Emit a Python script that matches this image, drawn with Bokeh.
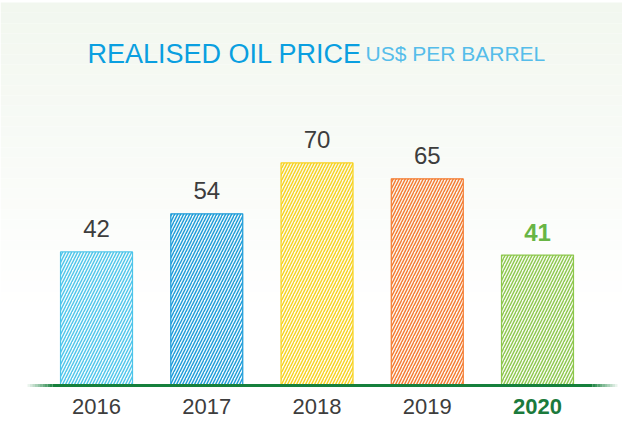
from bokeh.plotting import figure
from bokeh.models import FactorRange, Range1d, ColumnDataSource, BoxAnnotation, Label
from bokeh.transform import dodge
from bokeh.embed import file_html
from bokeh.resources import INLINE

# ---- data ----
years = ["2016", "2017", "2018", "2019", "2020"]
prices = [42, 54, 70, 65, 41]
bar_colors = ["#4dc5ea", "#1b9bd8", "#f7d21e", "#f47a2e", "#8dc74c"]
label_colors = ["#3d3d3d", "#3d3d3d", "#3d3d3d", "#3d3d3d", "#68b545"]
year_colors = ["#3d3d3d", "#3d3d3d", "#3d3d3d", "#3d3d3d", "#1b7a3c"]
font_styles = ["normal", "normal", "normal", "normal", "bold"]
title_text = "REALISED OIL PRICE"
subtitle_text = "US$ PER BARREL"

W, H = 622, 421
PXU = 3.18                 # pixels per US$
AXIS_PX = 385              # canvas y of the zero line
Y1 = AXIS_PX / PXU
Y0 = -(H - AXIS_PX) / PXU
PAD = 0.321
FONT = "Liberation Sans"


def y_at(px):
    return Y1 - px / PXU


src = ColumnDataSource(dict(year=years, price=prices, color=bar_colors,
                            lcolor=label_colors, ycolor=year_colors,
                            style=font_styles, label=[str(v) for v in prices]))

p = figure(width=W, height=H,
           x_range=FactorRange(factors=years, range_padding=PAD, range_padding_units="absolute"),
           y_range=Range1d(Y0, Y1),
           output_backend="svg", toolbar_location=None,
           x_axis_location=None, y_axis_location=None,
           min_border=0, min_border_left=0, min_border_right=0,
           min_border_top=0, min_border_bottom=0,
           outline_line_color=None, background_fill_color="white",
           border_fill_color="white")
p.grid.visible = False

# ---- background gradient (decoration) ----
top_c = (242, 247, 239)
n = 30
ytop, ybot = y_at(2), y_at(312)
for i in range(n):
    t = i / (n - 1)
    c = tuple(int(round(top_c[k] + (255 - top_c[k]) * t)) for k in range(3))
    hi = ytop - (ytop - ybot) * i / n
    lo = ytop - (ytop - ybot) * (i + 1) / n
    p.add_layout(BoxAnnotation(bottom=lo, top=hi, fill_color="#%02x%02x%02x" % c,
                               fill_alpha=1.0, line_color=None, level="underlay"))

xpos = dodge("year", 0.05, range=p.x_range)

# ---- bars ----
p.vbar(x=xpos, top="price", bottom=0, width=0.653, source=src,
       fill_color="color", fill_alpha=0.06, line_color="color", line_width=1.2,
       hatch_pattern="/", hatch_color="color", hatch_scale=6, hatch_weight=1.4,
       hatch_alpha=1.0)

# ---- baseline with faded ends ----
unit = W / (5 + 2 * PAD)


def syn(px):
    return -PAD + px / unit


p.segment(x0=[syn(52)], x1=[syn(592)], y0=[0], y1=[0], line_color="#16803c", line_width=3)
steps = 10
for i in range(steps):
    a = (i + 1) / (steps + 1)
    p.segment(x0=[syn(27 + i * 2.5)], x1=[syn(27 + (i + 1) * 2.5)], y0=[0], y1=[0],
              line_color="#16803c", line_width=3, line_alpha=a)
    p.segment(x0=[syn(617 - (i + 1) * 2.5)], x1=[syn(617 - i * 2.5)], y0=[0], y1=[0],
              line_color="#16803c", line_width=3, line_alpha=a)

# ---- value labels ----
p.text(x=xpos, y="price", text="label", source=src, text_align="center",
       text_baseline="alphabetic", y_offset=-23, text_font_size="24px",
       text_font={"value": FONT}, text_color="lcolor", text_font_style="style")

# ---- year labels ----
p.text(x=xpos, y=0, text="year", source=src, text_align="center",
       text_baseline="alphabetic", y_offset=21, text_font_size="22px",
       text_font={"value": FONT}, text_color="ycolor", text_font_style="style")

# ---- title ----
ty = y_at(53)
p.add_layout(Label(x=87, y=ty, x_units="screen", y_units="data", text=title_text,
                   text_font=FONT, text_font_size="27px", text_color="#0a9fe0",
                   text_baseline="alphabetic"))
p.add_layout(Label(x=365, y=ty, x_units="screen", y_units="data", text=subtitle_text,
                   text_font=FONT, text_font_size="21px", text_color="#55bdea",
                   text_baseline="alphabetic"))

open("out.html", "w").write(file_html(p, INLINE))
